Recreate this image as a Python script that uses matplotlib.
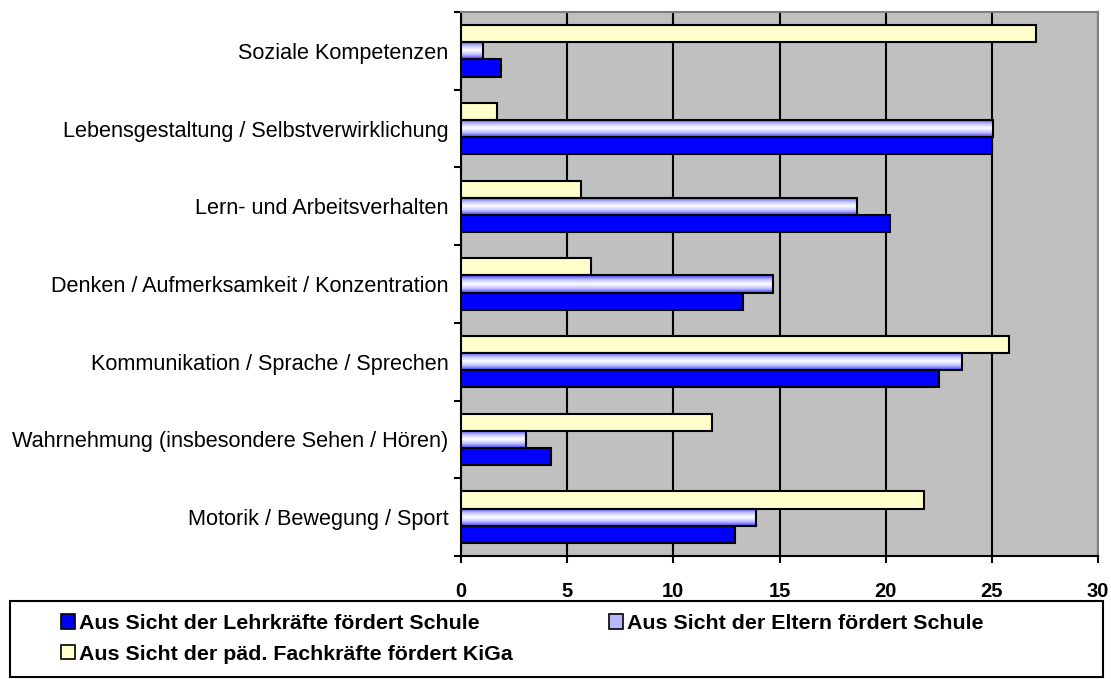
#!/usr/bin/env python3
import numpy as np
import matplotlib
matplotlib.use("Agg")
import matplotlib.pyplot as plt
from matplotlib.patches import Rectangle
from matplotlib.colors import LinearSegmentedColormap

# categories from bottom to top
categories = [
    "Motorik / Bewegung / Sport",
    "Wahrnehmung (insbesondere Sehen / Hören)",
    "Kommunikation / Sprache / Sprechen",
    "Denken / Aufmerksamkeit / Konzentration",
    "Lern- und Arbeitsverhalten",
    "Lebensgestaltung / Selbstverwirklichung",
    "Soziale Kompetenzen",
]
lehrer = [12.9, 4.25, 22.5, 13.3, 20.2, 25.0, 1.9]
eltern = [13.9, 3.05, 23.6, 14.7, 18.65, 25.05, 1.05]
kiga = [21.8, 11.8, 25.8, 6.1, 5.65, 1.7, 27.1]

series_labels = [
    "Aus Sicht der Lehrkräfte fördert Schule",
    "Aus Sicht der Eltern fördert Schule",
    "Aus Sicht der päd. Fachkräfte fördert KiGa",
]
xticks = [0, 5, 10, 15, 20, 25, 30]

plt.rcParams['font.family'] = ['Liberation Sans', 'DejaVu Sans']

W, H = 1111, 679
fig = plt.figure(figsize=(W / 100, H / 100), dpi=100)
ax = fig.add_axes([461 / W, 1 - 556 / H, (1098 - 461) / W, (556 - 12) / H])
ax.set_facecolor('#C0C0C0')

y = np.arange(len(categories))
bh = 0.22

ax.barh(y - bh, lehrer, height=bh, color='#0000FF', edgecolor='black', linewidth=1.5, zorder=3)
eb = ax.barh(y, eltern, height=bh, color='none', edgecolor='black', linewidth=1.5, zorder=4)
ax.barh(y + bh, kiga, height=bh, color='#FFFFCC', edgecolor='black', linewidth=1.5, zorder=3)

# blue-white-blue gradient for the Eltern bars
grad_cmap = LinearSegmentedColormap.from_list('bw', ['#4040FF', '#C0C0FF', '#FFFFFF', '#C0C0FF', '#4040FF'])
grad = np.linspace(0, 1, 64).reshape(-1, 1)
for rect in eb.patches:
    x0, y0 = rect.get_x(), rect.get_y()
    im = ax.imshow(grad, cmap=grad_cmap, aspect='auto', interpolation='bilinear',
                   extent=[x0, x0 + rect.get_width(), y0, y0 + rect.get_height()], zorder=3.5)
    im.set_clip_path(rect)

ax.set_xlim(0, 30)
ax.set_ylim(-0.5, len(categories) - 0.5)
ax.set_xticks(xticks)
ax.set_xticklabels([str(t) for t in xticks], fontweight='bold', fontsize=14.5)
ax.set_yticks(y)
ax.set_yticklabels(categories, fontsize=15.6)
ax.set_yticks(np.arange(-0.5, len(categories), 1), minor=True)
ax.tick_params(axis='y', which='major', length=0, pad=9)
ax.tick_params(axis='y', which='minor', length=5, width=1.5, direction='out')
ax.tick_params(axis='x', length=5, width=1.5, direction='out', pad=14)

ax.xaxis.grid(True, color='black', linewidth=1.5, zorder=1)
ax.set_axisbelow(True)
for s in ['left', 'bottom']:
    ax.spines[s].set_color('black')
    ax.spines[s].set_linewidth(1.5)
for s in ['top', 'right']:
    ax.spines[s].set_color('#808080')
    ax.spines[s].set_linewidth(1.5)

# legend box
fig.patches.append(Rectangle((10 / W, (H - 677) / H), (1103 - 10) / W, (677 - 601) / H,
                             transform=fig.transFigure, fill=False, edgecolor='black', linewidth=1.5))
handles = [
    Rectangle((0, 0), 1, 1, facecolor='#0000FF', edgecolor='black', linewidth=1.2),
    Rectangle((0, 0), 1, 1, facecolor='#B8B8FF', edgecolor='black', linewidth=1.2),
    Rectangle((0, 0), 1, 1, facecolor='#FFFFCC', edgecolor='black', linewidth=1.2),
]
# column-major filling: put KiGa second so it lands in row 2 of column 1
order = [0, 2, 1]
fig.legend([handles[i] for i in order], [series_labels[i] for i in order],
           loc='upper left', bbox_to_anchor=(61 / W, 1 - 614 / H),
           ncol=2, frameon=False, handlelength=0.65, handleheight=0.65, handletextpad=0.2,
           columnspacing=4.5, labelspacing=0.55, borderpad=0, borderaxespad=0,
           prop={'weight': 'bold', 'size': 15.4})

fig.savefig('out.png', dpi=100)
